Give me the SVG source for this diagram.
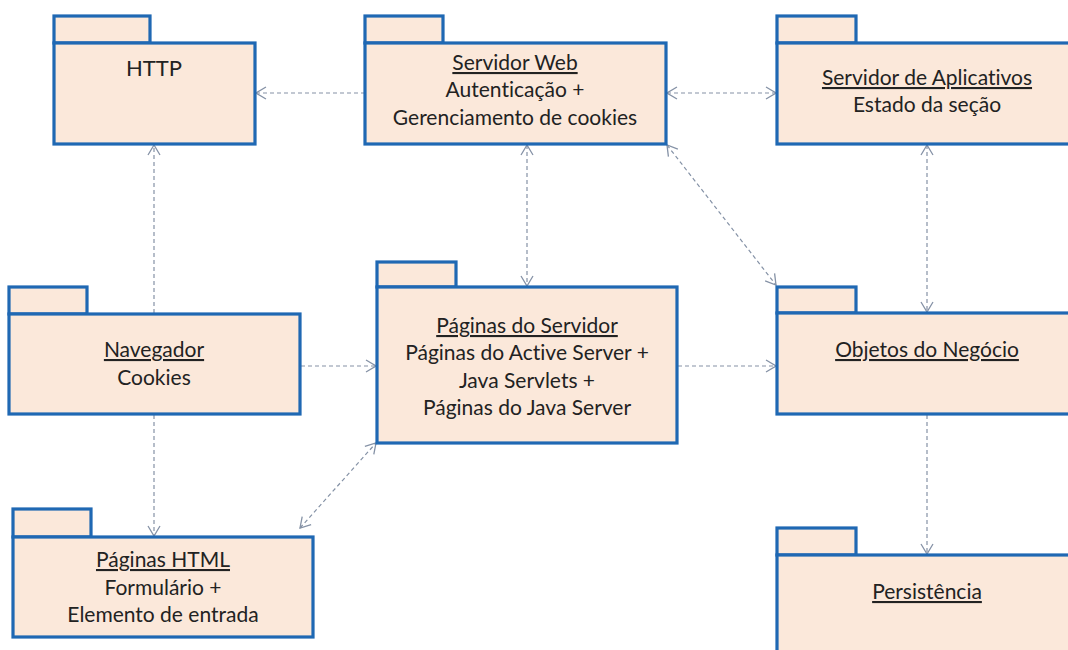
<svg xmlns="http://www.w3.org/2000/svg" width="1068" height="650" viewBox="0 0 1068 650">
<style>
.pk{fill:#fbe8da;stroke:#1f68b3;stroke-width:3.2;stroke-linejoin:miter}
.t{font-family:Lato,"Open Sans","Liberation Sans",sans-serif;font-size:21px;fill:#222;text-anchor:middle;font-variant-ligatures:none}
.u{text-decoration:underline}
.c{fill:none;stroke:#8592a6;stroke-width:1.2;stroke-dasharray:4 3}
</style>
<defs>
<marker id="ah" viewBox="0 0 12 14" refX="11" refY="7" markerWidth="12" markerHeight="14" markerUnits="userSpaceOnUse" orient="auto-start-reverse">
<path d="M1,1 L11,7 L1,13" fill="none" stroke="#8592a6" stroke-width="1.3"/>
</marker>
</defs>
<rect width="1068" height="650" fill="#fff"/>

<g id="connectors">
<line class="c" x1="365" y1="93" x2="256" y2="93" marker-end="url(#ah)"/>
<line class="c" x1="667" y1="93" x2="776" y2="93" marker-start="url(#ah)" marker-end="url(#ah)"/>
<line class="c" x1="154" y1="313" x2="154" y2="145" marker-end="url(#ah)"/>
<line class="c" x1="527" y1="145" x2="527" y2="286" marker-start="url(#ah)" marker-end="url(#ah)"/>
<line class="c" x1="667" y1="145" x2="776" y2="285" marker-start="url(#ah)" marker-end="url(#ah)"/>
<line class="c" x1="927" y1="145" x2="927" y2="312" marker-start="url(#ah)" marker-end="url(#ah)"/>
<line class="c" x1="301" y1="366" x2="376" y2="366" marker-end="url(#ah)"/>
<line class="c" x1="678" y1="366" x2="776" y2="366" marker-end="url(#ah)"/>
<line class="c" x1="154" y1="415" x2="154" y2="536" marker-end="url(#ah)"/>
<line class="c" x1="300" y1="528" x2="376" y2="443" marker-start="url(#ah)" marker-end="url(#ah)"/>
<line class="c" x1="927" y1="415" x2="927" y2="554" marker-end="url(#ah)"/>
</g>

<g id="http">
<rect class="pk" x="54" y="16" width="96" height="27"/>
<rect class="pk" x="54" y="43" width="201" height="101"/>
<text class="t" x="154" y="76" style="font-size:22px">HTTP</text>
</g>

<g id="servidor-web">
<rect class="pk" x="365" y="16" width="78" height="27"/>
<rect class="pk" x="365" y="43" width="301" height="101"/>
<text class="t" x="515" y="70"><tspan class="u">Servidor Web</tspan></text>
<text class="t" x="515" y="97">Autenticação +</text>
<text class="t" x="515" y="125">Gerenciamento de cookies</text>
</g>

<g id="servidor-aplicativos">
<rect class="pk" x="777" y="16" width="79" height="27"/>
<rect class="pk" x="777" y="43" width="300" height="101"/>
<text class="t" x="927" y="85"><tspan class="u">Servidor de Aplicativos</tspan></text>
<text class="t" x="927" y="112">Estado da seção</text>
</g>

<g id="navegador">
<rect class="pk" x="9" y="287" width="78" height="27"/>
<rect class="pk" x="9" y="314" width="291" height="100"/>
<text class="t" x="154" y="357"><tspan class="u">Navegador</tspan></text>
<text class="t" x="154" y="385">Cookies</text>
</g>

<g id="paginas-servidor">
<rect class="pk" x="377" y="262" width="79" height="25"/>
<rect class="pk" x="377" y="287" width="300" height="156"/>
<text class="t" x="527" y="333"><tspan class="u">Páginas do Servidor</tspan></text>
<text class="t" x="527" y="360">Páginas do Active Server +</text>
<text class="t" x="527" y="388">Java Servlets +</text>
<text class="t" x="527" y="415">Páginas do Java Server</text>
</g>

<g id="objetos-negocio">
<rect class="pk" x="777" y="287" width="79" height="26"/>
<rect class="pk" x="777" y="313" width="300" height="101"/>
<text class="t" x="927" y="357"><tspan class="u">Objetos do Negócio</tspan></text>
</g>

<g id="paginas-html">
<rect class="pk" x="13" y="509" width="78" height="28"/>
<rect class="pk" x="13" y="537" width="300" height="100"/>
<text class="t" x="163" y="567"><tspan class="u">Páginas HTML</tspan></text>
<text class="t" x="163" y="595">Formulário +</text>
<text class="t" x="163" y="622">Elemento de entrada</text>
</g>

<g id="persistencia">
<rect class="pk" x="777" y="528" width="79" height="27"/>
<rect class="pk" x="777" y="555" width="300" height="110"/>
<text class="t" x="927" y="599"><tspan class="u">Persistência</tspan></text>
</g>
</svg>
